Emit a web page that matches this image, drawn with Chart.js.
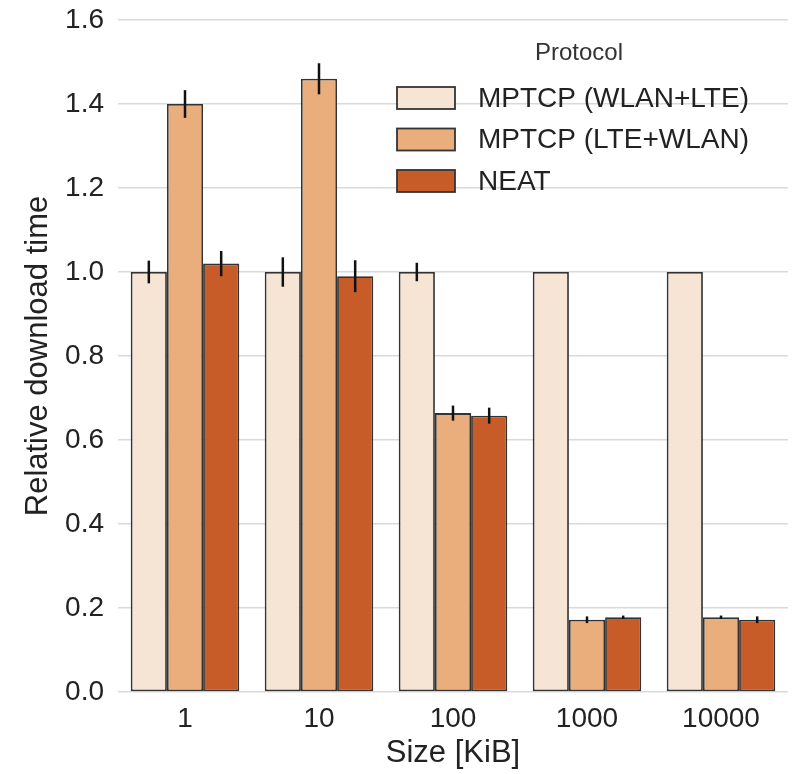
<!DOCTYPE html>
<html>
<head>
<meta charset="utf-8">
<script src="https://cdn.jsdelivr.net/npm/chart.js@4.4.1/dist/chart.umd.min.js"></script>
<style>
  html, body { margin: 0; padding: 0; background: #fff; }
  #wrap { width: 792px; height: 774px; }
</style>
</head>
<body>
<div id="wrap"><canvas id="chart" width="792" height="774"></canvas></div>
<script>
// data
const sizes = ['1', '10', '100', '1000', '10000'];
const protocols = ['MPTCP (WLAN+LTE)', 'MPTCP (LTE+WLAN)', 'NEAT'];
const wlanLte = [1.0, 1.0, 1.0, 1.0, 1.0];
const wlanLteErr = [0.027, 0.035, 0.022, 0, 0];
const lteWlan = [1.40, 1.46, 0.664, 0.172, 0.178];
const lteWlanErr = [0.033, 0.037, 0.018, 0.008, 0.004];
const neat = [1.02, 0.99, 0.658, 0.178, 0.172];
const neatErr = [0.030, 0.038, 0.019, 0.004, 0.008];
const yTicks = [0, 0.2, 0.4, 0.6, 0.8, 1.0, 1.2, 1.4, 1.6];

const colors = ['#f6e4d4', '#e9ae7c', '#c85c28'];
const FONT = '"Liberation Sans", Arial, sans-serif';

// error bars on top of every bar
const errorBars = {
    id: 'errorBars',
    afterDatasetsDraw(chart) {
        const ctx = chart.ctx;
        const y = chart.scales.y;
        ctx.save();
        ctx.strokeStyle = '#111';
        ctx.lineWidth = 2.5;
        chart.data.datasets.forEach((ds, i) => {
            const meta = chart.getDatasetMeta(i);
            meta.data.forEach((bar, j) => {
                const e = ds.errors[j];
                if (!e) return;
                ctx.beginPath();
                ctx.moveTo(bar.x, y.getPixelForValue(ds.data[j] + e));
                ctx.lineTo(bar.x, y.getPixelForValue(ds.data[j] - e));
                ctx.stroke();
            });
        });
        ctx.restore();
    }
};

// legend drawn inside the plot, seaborn style
const innerLegend = {
    id: 'innerLegend',
    afterDraw(chart) {
        const ctx = chart.ctx;
        ctx.save();
        ctx.fillStyle = '#333';
        ctx.textAlign = 'center';
        ctx.textBaseline = 'middle';
        ctx.font = '24px ' + FONT;
        ctx.fillText('Protocol', 579, 53);
        ctx.textAlign = 'left';
        ctx.font = '28px ' + FONT;
        chart.data.datasets.forEach((ds, i) => {
            const cy = 98 + i * 41.5;
            ctx.fillStyle = ds.backgroundColor;
            ctx.fillRect(397, cy - 11, 58, 22);
            ctx.strokeStyle = '#333';
            ctx.lineWidth = 1.8;
            ctx.strokeRect(397, cy - 11, 58, 22);
            ctx.fillStyle = '#222';
            ctx.fillText(ds.label, 478, cy + 1);
        });
        ctx.restore();
    }
};

const makeSet = (i, data, errors) => ({
    label: protocols[i],
    data: data,
    errors: errors,
    backgroundColor: colors[i],
    borderColor: '#333',
    borderWidth: 1.8,
    borderSkipped: false,
    categoryPercentage: 0.81,
    barPercentage: 1.0
});

new Chart(document.querySelector('#chart').getContext('2d'), {
    type: 'bar',
    data: {
        labels: sizes,
        datasets: [
            makeSet(0, wlanLte, wlanLteErr),
            makeSet(1, lteWlan, lteWlanErr),
            makeSet(2, neat, neatErr)
        ]
    },
    options: {
        responsive: false,
        animation: false,
        layout: { padding: { top: 20, right: 4, left: 0, bottom: 0 } },
        plugins: {
            legend: { display: false },
            tooltip: { enabled: false }
        },
        scales: {
            x: {
                grid: { display: false, drawTicks: false },
                border: { display: false },
                ticks: { color: '#222', font: { family: FONT, size: 28 }, padding: 10 },
                title: { display: true, text: 'Size [KiB]', color: '#222', font: { family: FONT, size: 31 }, padding: { top: 0, bottom: 2 } },
                afterFit: s => { s.height = 82; }
            },
            y: {
                min: 0,
                max: 1.6,
                afterBuildTicks: s => { s.ticks = yTicks.map(v => ({ value: v })); },
                grid: { color: '#d9d9d9', lineWidth: 1.5, drawTicks: false },
                border: { display: false },
                ticks: {
                    color: '#222',
                    font: { family: FONT, size: 28 },
                    padding: 14,
                    callback: v => v.toFixed(1)
                },
                title: { display: true, text: 'Relative download time', color: '#222', font: { family: FONT, size: 31 }, padding: { top: 20, bottom: 0 } },
                afterFit: s => { s.width = 118; s.paddingTop = 0; s.paddingBottom = 0; }
            }
        }
    },
    plugins: [errorBars, innerLegend]
});
</script>
</body>
</html>
